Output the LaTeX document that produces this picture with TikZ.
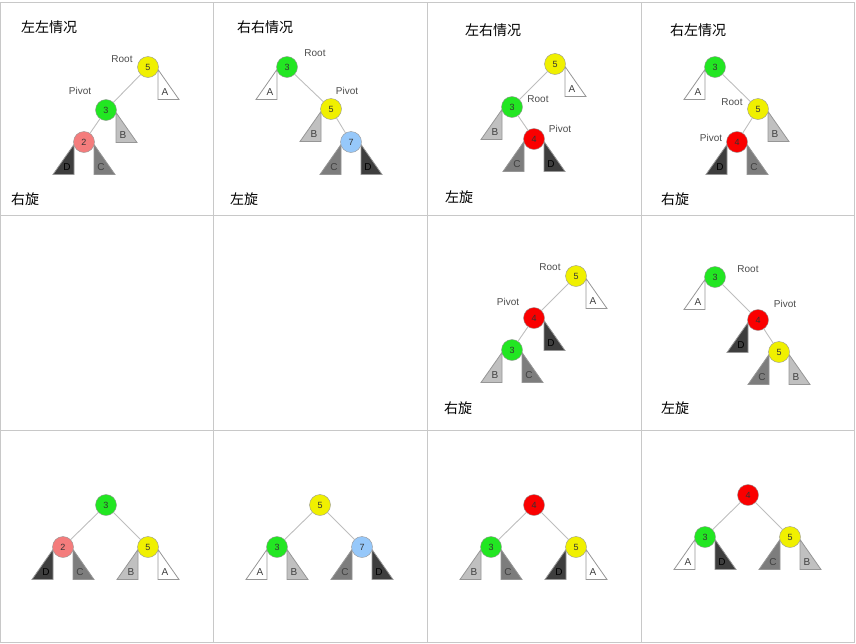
\documentclass[tikz,border=0pt]{standalone}
\usepackage{fontspec}
\setmainfont{Liberation Sans}
\newfontfamily\cjk{Noto Sans CJK SC}
\usetikzlibrary{positioning}
\pgfdeclarelayer{background}
\pgfsetlayers{background,main}

\definecolor{gridgray}{RGB}{200,200,200}
\definecolor{edgegray}{RGB}{190,190,190}
\definecolor{rimgray}{RGB}{150,150,150}
\definecolor{nodeyellow}{RGB}{240,240,0}
\definecolor{nodegreen}{RGB}{34,230,34}
\definecolor{nodepink}{RGB}{244,124,124}
\definecolor{nodered}{RGB}{250,0,0}
\definecolor{nodeblue}{RGB}{150,200,250}
\definecolor{lgray}{RGB}{192,192,192}
\definecolor{mgray}{RGB}{125,125,125}
\definecolor{dgray}{RGB}{62,62,62}

\tikzset{
  key/.style={circle, draw=rimgray, minimum size=21pt, inner sep=0pt,
    font=\fontsize{9}{10}\selectfont, text=black!80},
  yel/.style={key, fill=nodeyellow},
  grn/.style={key, fill=nodegreen},
  pnk/.style={key, fill=nodepink},
  rd/.style={key, fill=nodered},
  blu/.style={key, fill=nodeblue},
  edge/.style={draw=edgegray, line width=0.9pt},
  subtree/.style={draw=rimgray, line width=0.8pt},
  leaf/.style={font=\fontsize{10}{11}\selectfont, text=black!75, inner sep=0pt},
  leaf D/.style={text=black},
  tag/.style={font=\fontsize{10}{11}\selectfont, text=black!70, inner sep=0pt},
  caption/.style={font=\cjk\fontsize{14}{16}\selectfont, inner sep=0pt}
}

% subtree triangles hanging on the left / right of a key node
\newcommand{\lefttree}[3]{%
  \begin{pgfonlayer}{background}
    \draw[subtree, fill=#2] ([shift={(-10,2.5)}]#1.center) -- ++(0,30) -- ++(-21,0) -- cycle;
  \end{pgfonlayer}
  \node[leaf, leaf #3/.try] (#1#3) at ([shift={(-17,25)}]#1.center) {#3};
}
\newcommand{\righttree}[3]{%
  \begin{pgfonlayer}{background}
    \draw[subtree, fill=#2] ([shift={(10,2.5)}]#1.center) -- ++(0,30) -- ++(21,0) -- cycle;
  \end{pgfonlayer}
  \node[leaf, leaf #3/.try] (#1#3) at ([shift={(17,25)}]#1.center) {#3};
}

\begin{document}
\begin{tikzpicture}[x=1pt, y=-1pt]
  \useasboundingbox (0,0) rectangle (856,643);

  % table grid
  \draw[gridgray, line width=1pt] (0.5,2.5) rectangle (854,642.5);
  \foreach \gx in {213,427,641}
    \draw[gridgray, line width=1pt] (\gx,2.5) -- (\gx,642.5);
  \foreach \gy in {215.5,430}
    \draw[gridgray, line width=1pt] (0.5,\gy) -- (854,\gy);

  % left-left case
  \node[caption] (t1) at (49,27) {左左情况};
  \node[yel] (a5) at (148,67) {5};
  \node[grn] (a3) at (106,110) {3};
  \node[pnk] (a2) at (84,142) {2};
  \node[tag] (a5r) at (122,59) {Root};
  \node[tag] (a3p) at (80,91) {Pivot};
  \draw[edge] (a5) -- (a3);
  \draw[edge] (a3) -- (a2);
  \righttree{a5}{white}{A}
  \righttree{a3}{lgray}{B}
  \lefttree{a2}{dgray}{D}
  \righttree{a2}{mgray}{C}
  \node[caption] (s1) at (25,199) {右旋};

  % right-right case
  \node[caption] (t2) at (265,27) {右右情况};
  \node[grn] (b3) at (287,67) {3};
  \node[yel] (b5) at (331,109) {5};
  \node[blu] (b7) at (351,142) {7};
  \node[tag] (b3r) at (315,53) {Root};
  \node[tag] (b5p) at (347,91) {Pivot};
  \draw[edge] (b3) -- (b5);
  \draw[edge] (b5) -- (b7);
  \lefttree{b3}{white}{A}
  \lefttree{b5}{lgray}{B}
  \lefttree{b7}{mgray}{C}
  \righttree{b7}{dgray}{D}
  \node[caption] (s2) at (244,199) {左旋};

  % left-right case
  \node[caption] (t3) at (493,30) {左右情况};
  \node[yel] (c5) at (555,64) {5};
  \node[grn] (c3) at (512,107) {3};
  \node[rd] (c4) at (534,139) {4};
  \node[tag] (c3r) at (538,99) {Root};
  \node[tag] (c4p) at (560,129) {Pivot};
  \draw[edge] (c5) -- (c3);
  \draw[edge] (c3) -- (c4);
  \righttree{c5}{white}{A}
  \lefttree{c3}{lgray}{B}
  \lefttree{c4}{mgray}{C}
  \righttree{c4}{dgray}{D}
  \node[caption] (s3) at (459,197) {左旋};

  % right-left case
  \node[caption] (t4) at (698,30) {右左情况};
  \node[grn] (d3) at (715,67) {3};
  \node[yel] (d5) at (758,109) {5};
  \node[rd] (d4) at (737,142) {4};
  \node[tag] (d5r) at (732,102) {Root};
  \node[tag] (d4p) at (711,138) {Pivot};
  \draw[edge] (d3) -- (d5);
  \draw[edge] (d5) -- (d4);
  \lefttree{d3}{white}{A}
  \righttree{d5}{lgray}{B}
  \lefttree{d4}{dgray}{D}
  \righttree{d4}{mgray}{C}
  \node[caption] (s4) at (675,199) {右旋};

  % left-right, after first rotation
  \node[yel] (e5) at (576,276) {5};
  \node[rd] (e4) at (534,318) {4};
  \node[grn] (e3) at (512,350) {3};
  \node[tag] (e5r) at (550,267) {Root};
  \node[tag] (e4p) at (508,302) {Pivot};
  \draw[edge] (e5) -- (e4);
  \draw[edge] (e4) -- (e3);
  \righttree{e5}{white}{A}
  \righttree{e4}{dgray}{D}
  \lefttree{e3}{lgray}{B}
  \righttree{e3}{mgray}{C}
  \node[caption] (s7) at (458,408) {右旋};

  % right-left, after first rotation
  \node[grn] (f3) at (715,277) {3};
  \node[rd] (f4) at (758,320) {4};
  \node[yel] (f5) at (779,352) {5};
  \node[tag] (f3r) at (748,269) {Root};
  \node[tag] (f4p) at (785,304) {Pivot};
  \draw[edge] (f3) -- (f4);
  \draw[edge] (f4) -- (f5);
  \lefttree{f3}{white}{A}
  \lefttree{f4}{dgray}{D}
  \lefttree{f5}{mgray}{C}
  \righttree{f5}{lgray}{B}
  \node[caption] (s8) at (675,408) {左旋};

  % balanced results
  \node[grn] (g3) at (106,505) {3};
  \node[pnk] (g2) at (63,547) {2};
  \node[yel] (g5) at (148,547) {5};
  \draw[edge] (g3) -- (g2);
  \draw[edge] (g3) -- (g5);
  \lefttree{g2}{dgray}{D}
  \righttree{g2}{mgray}{C}
  \lefttree{g5}{lgray}{B}
  \righttree{g5}{white}{A}

  \node[yel] (h5) at (320,505) {5};
  \node[grn] (h3) at (277,547) {3};
  \node[blu] (h7) at (362,547) {7};
  \draw[edge] (h5) -- (h3);
  \draw[edge] (h5) -- (h7);
  \lefttree{h3}{white}{A}
  \righttree{h3}{lgray}{B}
  \lefttree{h7}{mgray}{C}
  \righttree{h7}{dgray}{D}

  \node[rd] (i4) at (534,505) {4};
  \node[grn] (i3) at (491,547) {3};
  \node[yel] (i5) at (576,547) {5};
  \draw[edge] (i4) -- (i3);
  \draw[edge] (i4) -- (i5);
  \lefttree{i3}{lgray}{B}
  \righttree{i3}{mgray}{C}
  \lefttree{i5}{dgray}{D}
  \righttree{i5}{white}{A}

  \node[rd] (j4) at (748,495) {4};
  \node[grn] (j3) at (705,537) {3};
  \node[yel] (j5) at (790,537) {5};
  \draw[edge] (j4) -- (j3);
  \draw[edge] (j4) -- (j5);
  \lefttree{j3}{white}{A}
  \righttree{j3}{dgray}{D}
  \lefttree{j5}{mgray}{C}
  \righttree{j5}{lgray}{B}
\end{tikzpicture}
\end{document}
